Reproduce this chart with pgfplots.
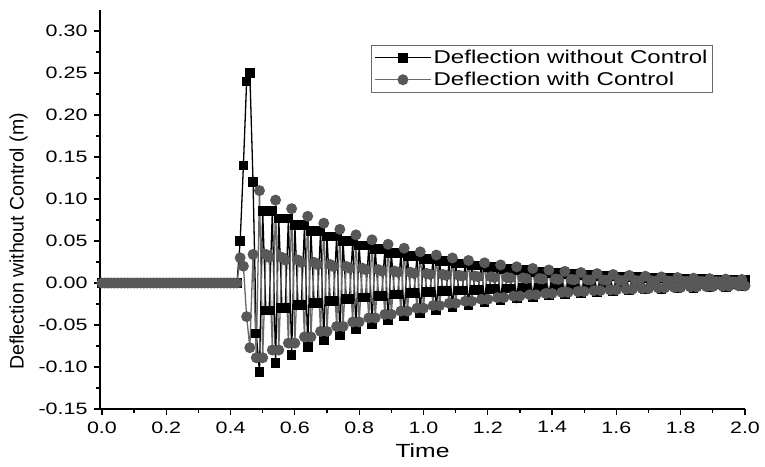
\documentclass[border=0pt]{standalone}
\usepackage{pgfplots}
\usepackage{pgfplotstable}
\pgfplotsset{compat=1.18}
\usepackage{fontspec}
\setmainfont{Liberation Sans}[FakeStretch=1.3]
\newfontfamily\plainsans{Liberation Sans}
\definecolor{mgray}{RGB}{88,88,88}
\definecolor{lgray}{RGB}{105,105,105}

\pgfplotstableread{
t b g
0.00 0 0
0.01 0 0
0.02 0 0
0.03 0 0
0.04 0 0
0.05 0 0
0.06 0 0
0.07 0 0
0.08 0 0
0.09 0 0
0.10 0 0
0.11 0 0
0.12 0 0
0.13 0 0
0.14 0 0
0.15 0 0
0.16 0 0
0.17 0 0
0.18 0 0
0.19 0 0
0.20 0 0
0.21 0 0
0.22 0 0
0.23 0 0
0.24 0 0
0.25 0 0
0.26 0 0
0.27 0 0
0.28 0 0
0.29 0 0
0.30 0 0
0.31 0 0
0.32 0 0
0.33 0 0
0.34 0 0
0.35 0 0
0.36 0 0
0.37 0 0
0.38 0 0
0.39 0 0
0.40 0 0
0.41 0 0
0.42 0 0
0.43 0.05 0.03
0.44 0.14 0.02
0.45 0.24 -0.04
0.46 0.25 -0.077
0.47 0.12 0.0340
0.48 -0.06 -0.0890
0.49 -0.1060 0.1100
0.50 0.0858 -0.0890
0.51 -0.0328 0.0340
0.52 -0.0328 0.0305
0.53 0.0858 -0.0798
0.54 -0.0951 0.0987
0.55 0.0769 -0.0798
0.56 -0.0294 0.0305
0.57 -0.0294 0.0273
0.58 0.0769 -0.0716
0.59 -0.0853 0.0885
0.60 0.0690 -0.0716
0.61 -0.0264 0.0273
0.62 -0.0264 0.0245
0.63 0.0690 -0.0642
0.64 -0.0765 0.0794
0.65 0.0619 -0.0642
0.66 -0.0236 0.0245
0.67 -0.0236 0.0220
0.68 0.0619 -0.0576
0.69 -0.0686 0.0712
0.70 0.0555 -0.0576
0.71 -0.0212 0.0220
0.72 -0.0212 0.0197
0.73 0.0555 -0.0517
0.74 -0.0616 0.0639
0.75 0.0498 -0.0517
0.76 -0.0190 0.0197
0.77 -0.0190 0.0177
0.78 0.0498 -0.0464
0.79 -0.0552 0.0573
0.80 0.0447 -0.0464
0.81 -0.0171 0.0177
0.82 -0.0171 0.0159
0.83 0.0447 -0.0416
0.84 -0.0495 0.0514
0.85 0.0401 -0.0416
0.86 -0.0153 0.0159
0.87 -0.0153 0.0142
0.88 0.0401 -0.0373
0.89 -0.0444 0.0461
0.90 0.0359 -0.0373
0.91 -0.0137 0.0142
0.92 -0.0137 0.0128
0.93 0.0359 -0.0335
0.94 -0.0399 0.0414
0.95 0.0322 -0.0335
0.96 -0.0123 0.0128
0.97 -0.0123 0.0115
0.98 0.0322 -0.0300
0.99 -0.0358 0.0371
1.00 0.0289 -0.0300
1.01 -0.0110 0.0115
1.02 -0.0110 0.0103
1.03 0.0289 -0.0269
1.04 -0.0321 0.0333
1.05 0.0259 -0.0269
1.06 -0.0099 0.0103
1.07 -0.0099 0.0092
1.08 0.0259 -0.0241
1.09 -0.0288 0.0298
1.10 0.0233 -0.0241
1.11 -0.0089 0.0092
1.12 -0.0089 0.0083
1.13 0.0233 -0.0217
1.14 -0.0258 0.0268
1.15 0.0209 -0.0217
1.16 -0.0080 0.0083
1.17 -0.0080 0.0074
1.18 0.0209 -0.0194
1.19 -0.0231 0.0240
1.20 0.0187 -0.0194
1.21 -0.0072 0.0074
1.22 -0.0072 0.0066
1.23 0.0187 -0.0174
1.24 -0.0208 0.0215
1.25 0.0168 -0.0174
1.26 -0.0064 0.0066
1.27 -0.0064 0.0060
1.28 0.0168 -0.0156
1.29 -0.0186 0.0193
1.30 0.0151 -0.0156
1.31 -0.0058 0.0060
1.32 -0.0058 0.0053
1.33 0.0151 -0.0140
1.34 -0.0167 0.0173
1.35 0.0135 -0.0140
1.36 -0.0052 0.0053
1.37 -0.0052 0.0048
1.38 0.0135 -0.0125
1.39 -0.0150 0.0155
1.40 0.0121 -0.0125
1.41 -0.0046 0.0048
1.42 -0.0046 0.0043
1.43 0.0121 -0.0112
1.44 -0.0134 0.0139
1.45 0.0109 -0.0112
1.46 -0.0042 0.0043
1.47 -0.0042 0.0039
1.48 0.0109 -0.0101
1.49 -0.0121 0.0125
1.50 0.0098 -0.0101
1.51 -0.0037 0.0039
1.52 -0.0037 0.0035
1.53 0.0098 -0.0091
1.54 -0.0108 0.0112
1.55 0.0087 -0.0091
1.56 -0.0033 0.0035
1.57 -0.0033 0.0031
1.58 0.0087 -0.0082
1.59 -0.0097 0.0101
1.60 0.0078 -0.0082
1.61 -0.0030 0.0031
1.62 -0.0030 0.0028
1.63 0.0078 -0.0073
1.64 -0.0087 0.0090
1.65 0.0070 -0.0073
1.66 -0.0027 0.0028
1.67 -0.0027 0.0025
1.68 0.0070 -0.0066
1.69 -0.0078 0.0081
1.70 0.0063 -0.0066
1.71 -0.0024 0.0025
1.72 -0.0024 0.0023
1.73 0.0063 -0.0059
1.74 -0.0070 0.0073
1.75 0.0057 -0.0059
1.76 -0.0022 0.0023
1.77 -0.0022 0.0020
1.78 0.0057 -0.0053
1.79 -0.0063 0.0065
1.80 0.0051 -0.0053
1.81 -0.0019 0.0020
1.82 -0.0019 0.0018
1.83 0.0051 -0.0047
1.84 -0.0056 0.0058
1.85 0.0046 -0.0047
1.86 -0.0017 0.0018
1.87 -0.0017 0.0016
1.88 0.0046 -0.0042
1.89 -0.0051 0.0052
1.90 0.0041 -0.0042
1.91 -0.0016 0.0016
1.92 -0.0016 0.0015
1.93 0.0041 -0.0038
1.94 -0.0045 0.0047
1.95 0.0037 -0.0038
1.96 -0.0014 0.0015
1.97 -0.0014 0.0013
1.98 0.0037 -0.0034
1.99 -0.0041 0.0042
2.00 0.0033 -0.0034
}\datatable

\begin{document}
\begin{tikzpicture}
\begin{axis}[
  at={(0,0)}, anchor=south west,
  scale only axis,
  width=645pt, height=399pt,
  xmin=-0.006, xmax=2.0,
  ymin=-0.15, ymax=0.325,
  axis x line=bottom, axis y line=left,
  axis line style={-, line width=1.3pt},
  xtick={0,0.2,...,2.0},
  ytick={-0.15,-0.10,...,0.31},
  minor x tick num=1,
  minor y tick num=1,
  tick align=outside,
  major tick length=6pt,
  minor tick length=4pt,
  every tick/.style={black, line width=1.2pt},
  /pgf/number format/assume math mode=true,
  xticklabel style={/pgf/number format/.cd, fixed, fixed zerofill, precision=1, /tikz/.cd, yshift=-3pt},
  yticklabel style={/pgf/number format/.cd, fixed, fixed zerofill, precision=2, /tikz/.cd, xshift=-3pt},
  tick label style={font=\fontsize{16.5}{18}\selectfont},
  xlabel={Time},
  xlabel style={font=\fontsize{19}{22}\selectfont, yshift=-4pt},
  ylabel={\plainsans\fontsize{19.5}{22}\selectfont Deflection without Control (m)},
  every axis y label/.style={at={(ticklabel cs:0.42)}, rotate=90, anchor=south},
  ylabel shift=4pt,
  legend style={at={(rel axis cs:0.42,0.9123)}, anchor=north west,
    draw=lgray, line width=0.8pt, font=\fontsize{18.5}{21}\selectfont,
    inner xsep=3pt, inner ysep=3pt, row sep=3pt},
  legend cell align=left,
  legend image code/.code={
    \draw[#1, mark repeat=2, mark phase=2] plot coordinates {(0pt,0pt) (28pt,0pt) (56pt,0pt)};
  },
  clip=false,
]
\addplot[black, line width=1.3pt, mark=square*, mark size=4.2pt, mark options={solid, fill=black}] table[x=t, y=b] {\datatable};
\addlegendentry{Deflection without Control}
\addplot[lgray, line width=1.3pt, mark=*, mark size=4.8pt, mark options={solid, fill=mgray, draw=mgray}] table[x=t, y=g] {\datatable};
\addlegendentry{Deflection with Control}
\end{axis}
\pgfresetboundingbox
\path[use as bounding box] (-100pt,-57pt) rectangle (665pt,409pt);
\end{tikzpicture}
\end{document}
